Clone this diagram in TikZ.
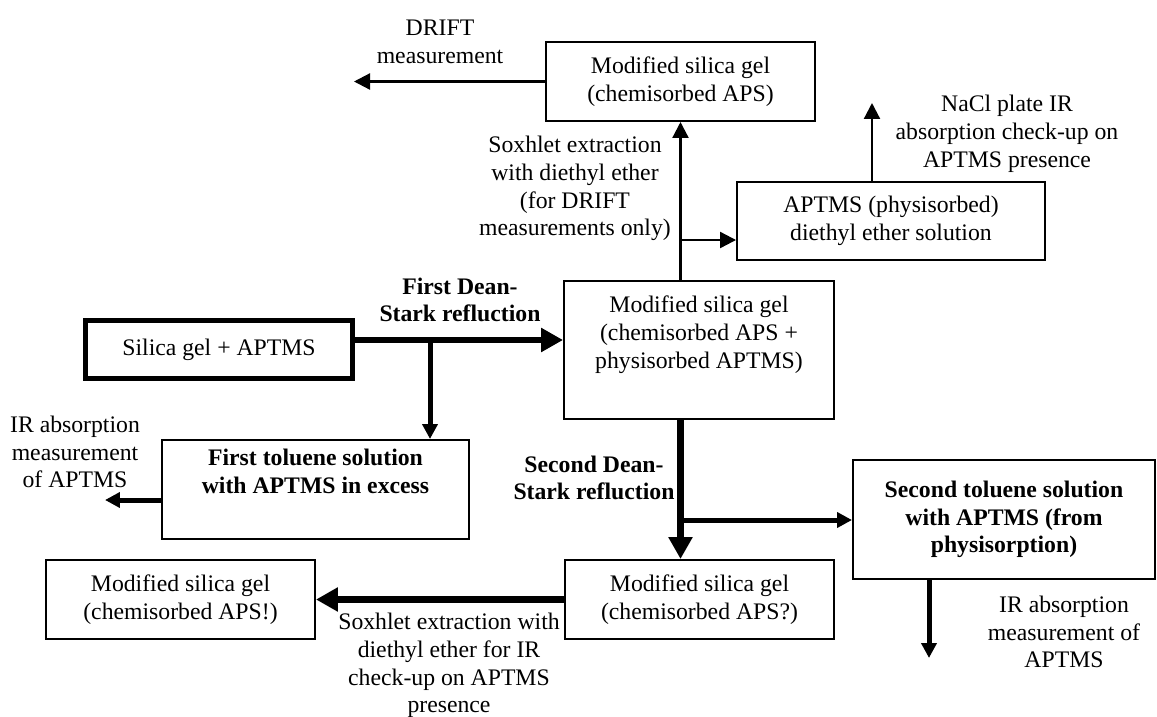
\documentclass[tikz,border=0pt]{standalone}
\usepackage{fontspec}
\setmainfont{Liberation Serif}
\usetikzlibrary{arrows.meta}

\begin{document}
\begin{tikzpicture}[x=0.02cm,y=-0.02cm,
            font=\fontsize{13.5}{15.8}\selectfont,
            procbox/.style={draw,line width=0.04cm,align=center,inner sep=0pt},
            startbox/.style={procbox,line width=0.1cm},
            lbl/.style={align=center,inner sep=0pt},
            boldtxt/.style={font=\fontsize{13.5}{15.8}\selectfont\bfseries},
            thinarr/.style={line width=0.045cm,-{Triangle[length=0.32cm,width=0.32cm]}},
            medarr/.style={line width=0.1cm,-{Triangle[length=0.3cm,width=0.3cm]}},
            thickarr/.style={line width=0.13cm,-{Triangle[length=0.44cm,width=0.46cm]}},
        ]
    \useasboundingbox (0,0) rectangle (1157,717);

    \node[procbox,minimum width=5.38cm,minimum height=1.58cm] (chem1) at (680.5,81.5) {Modified silica gel\\(chemisorbed APS)};
    \node[lbl] (drift) at (440,42) {DRIFT\\measurement};
    \coordinate (drifttip) at (354,82);
    \draw[thinarr] (chem1.west) -- (drifttip |- chem1.west);

    \node[procbox,minimum width=6.16cm,minimum height=1.56cm] (physol) at (891,221) {APTMS (physisorbed)\\diethyl ether solution};
    \node[lbl] (nacl) at (1007,134) {NaCl plate IR\\absorption check-up on\\APTMS presence};
    \coordinate (nacltip) at (872,103);
    \draw[thinarr] (nacltip |- physol.north) -- (nacltip);

    \node[procbox,minimum width=5.40cm,minimum height=2.76cm] (mix) at (699,350) {Modified silica gel\\(chemisorbed APS +\\physisorbed APTMS)\\ \strut};
    \node[lbl] (soxh1) at (575,188.5) {Soxhlet extraction\\with diethyl ether\\(for DRIFT\\measurements only)};
    \draw[thinarr] (chem1.south |- mix.north) -- (chem1.south);
    \coordinate (split1) at (680.5,240);
    \draw[thinarr] (split1) -- (split1 -| physol.west);

    \node[startbox,minimum width=5.36cm,minimum height=1.18cm] (start) at (219,349.5) {Silica gel + APTMS};
    \node[lbl,boldtxt] (dean1) at (460,300) {First Dean-\\Stark refluction};
    \node[procbox,boldtxt,minimum width=6.14cm,minimum height=1.98cm] (tol1) at (315.5,489.5) {First toluene solution\\with APTMS in excess\\ \strut};
    \coordinate (split2) at (430,340);
    \draw[thickarr] (split2 -| start.east) -- (split2 -| mix.west);
    \draw[medarr] (split2) -- (split2 |- tol1.north);

    \node[lbl] (ir1) at (75,452) {IR absorption\\measurement\\of APTMS};
    \coordinate (ir1tip) at (105,500);
    \draw[medarr] (ir1tip -| tol1.west) -- (ir1tip);

    \node[lbl,boldtxt] (dean2) at (594,478) {Second Dean-\\Stark refluction};
    \node[procbox,minimum width=5.38cm,minimum height=1.58cm] (chem2) at (699.5,599.5) {Modified silica gel\\(chemisorbed APS?)};
    \node[procbox,boldtxt,minimum width=6.04cm,minimum height=2.38cm] (tol2) at (1004,519.5) {Second toluene solution\\with APTMS (from\\physisorption)};
    \draw[thickarr] (chem1.south |- mix.south) -- (chem1.south |- chem2.north);
    \coordinate (split3) at (680.5,520);
    \draw[medarr] (split3) -- (split3 -| tol2.west);

    \node[lbl] (ir2) at (1064,632) {IR absorption\\measurement of\\APTMS};
    \coordinate (ir2tip) at (929,658);
    \draw[medarr] (ir2tip |- tol2.south) -- (ir2tip);

    \node[procbox,minimum width=5.38cm,minimum height=1.58cm] (chem3) at (180.5,599.5) {Modified silica gel\\(chemisorbed APS!)};
    \node[lbl] (soxh2) at (449,665.5) {Soxhlet extraction with\\diethyl ether for IR\\check-up on APTMS\\presence};
    \draw[thickarr] (chem2.west) -- (chem3.east);
\end{tikzpicture}
\end{document}
